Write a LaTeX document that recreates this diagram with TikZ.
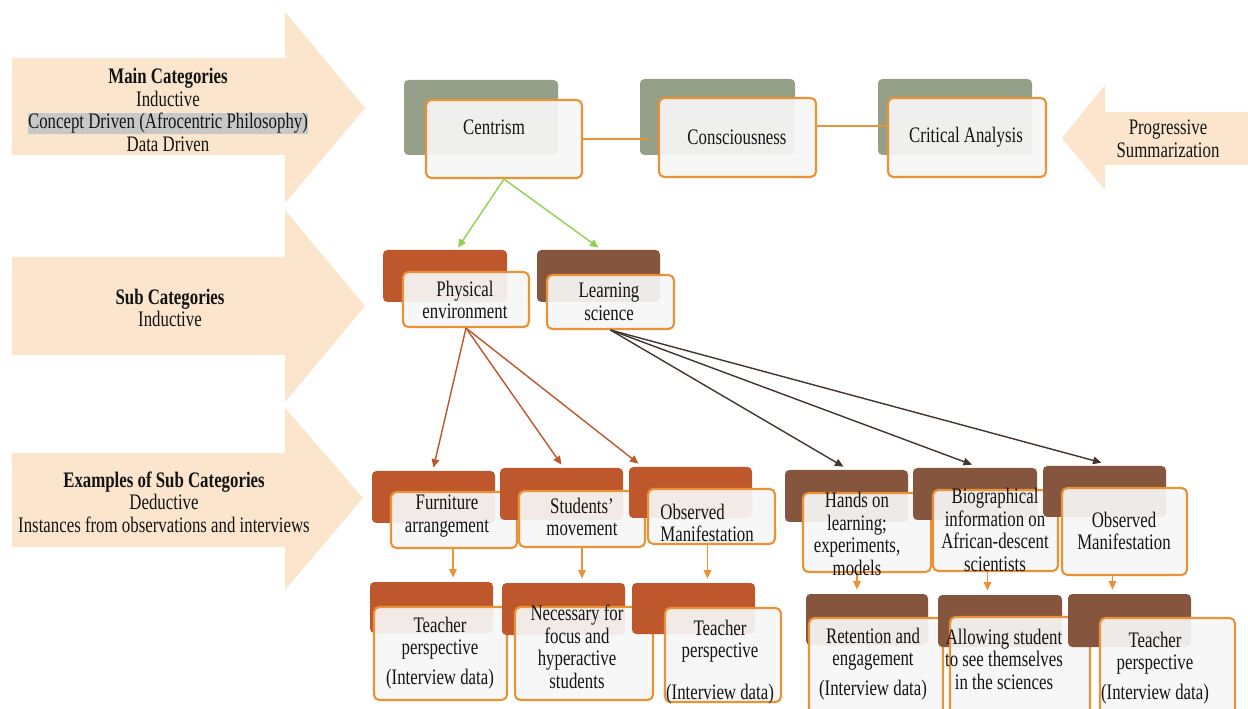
\documentclass[tikz,border=0pt]{standalone}
\usepackage{fontspec}
\setmainfont{Liberation Serif}[FakeStretch=0.76]
\usetikzlibrary{fit,calc,arrows.meta}
\definecolor{beige}{RGB}{251,229,205}
\definecolor{hlgray}{RGB}{200,200,200}
\definecolor{sage}{RGB}{148,160,136}
\definecolor{rust}{RGB}{190,87,44}
\definecolor{bark}{RGB}{133,85,61}
\definecolor{edge}{RGB}{234,146,54}
\definecolor{leaf}{RGB}{146,208,80}
\definecolor{soot}{RGB}{66,54,48}
\newcommand\lbl{\fontsize{12.6}{12.8}\selectfont}

\begin{document}
\begin{tikzpicture}[x=0.02cm,y=-0.02cm,
    back/.style={fill=#1,rounded corners=2.5pt,inner sep=0pt},
    front/.style={draw=edge,line width=1.2pt,fill=white!97!black,fill opacity=.92,rounded corners=3pt,inner sep=0pt},
    txt/.style={align=center,inner sep=0pt,text=black!92,font=\lbl},
    tip/.style={-{Triangle[length=1.7mm,width=1.5mm]},line width=.8pt},
    garr/.style={tip,draw=leaf},
    rarr/.style={tip,draw=rust},
    darr/.style={tip,draw=soot},
    oarr/.style={tip,draw=edge},
    oline/.style={draw=edge,line width=1.1pt}]
  \path[use as bounding box,fill=white] (0,0) rectangle (1248,709);
  \fill[beige] (12,58) -- (285,58) -- (285,12) -- (365,108) -- (285,203) -- (285,155) -- (12,155) -- cycle;
  \fill[beige] (12,257) -- (285,257) -- (285,210) -- (365,306) -- (285,402) -- (285,355) -- (12,355) -- cycle;
  \fill[beige] (12,453) -- (285,453) -- (285,408) -- (363,498) -- (285,590) -- (285,547) -- (12,547) -- cycle;
  \fill[beige] (1248,112) -- (1105,112) -- (1105,85) -- (1062,138) -- (1105,190) -- (1105,165) -- (1248,165) -- cycle;
  \node[txt] (mct) at (168,110) {\textbf{Main Categories}\\Inductive\\{\fboxsep0pt\colorbox{hlgray}{Concept Driven (Afrocentric Philosophy)}}\\Data Driven};
  \node[txt] (sct) at (170,308) {\textbf{Sub Categories}\\Inductive};
  \node[txt] (ext) at (164,502) {\textbf{Examples of Sub Categories}\\Deductive\\Instances from observations and interviews};
  \node[txt] (pst) at (1168,139) {Progressive\\Summarization};
  \foreach \nm/\col/\a/\b/\c/\d/\e/\f/\g/\h in {
      cen/sage/404/80/558/155/426/100/582/178, con/sage/640/79/795/155/659/98/816/177,
      cri/sage/878/79/1032/155/888/98/1046/177,
      phy/rust/383/250/507/302/403/272/529/327, lrn/bark/537/250/660/302/547/275/674/329,
      fur/rust/372/471/495/523/391/492/517/548, stm/rust/500/468/623/520/519/491/645/547,
      obl/rust/629/467/752/518/648/489/775/544,
      tpa/rust/370/582/493/633/374/607/507/700, nec/rust/502/583/625/635/515/607/653/700,
      tpb/rust/632/583/755/634/665/608/781/702,
      hnd/bark/785/470/908/522/803/493/931/572, bio/bark/913/468/1037/520/933/490/1058/571,
      obr/bark/1043/466/1166/517/1062/488/1187/575,
      ret/bark/806/594/928/645/809/618/943/714, alw/bark/938/595/1062/647/950/617/1090/714,
      tpc/bark/1068/594/1191/647/1100/618/1235/714} {
    \node[back=\col,fit={(\a,\b) (\c,\d)}] (b\nm) {};
    \node[front,fit={(\e,\f) (\g,\h)}] (\nm) {};
  }
  \draw[oline] (cen.east) -- ($(cen.east -| bcon.west)+(9,0)$);
  \draw[oline] ($(con.east)+(0,-11.5)$) -- ($(cri.west)+(0,-11.5)$);
  \draw[garr] (cen.south) -- ($(bphy.north)+(13,-2)$);
  \draw[garr] (cen.south) -- ($(blrn.north)+(0,-2)$);
  \foreach \t/\s in {bfur/0, bstm/0, bobl/-52}
    \draw[rarr] (phy.south) -- ($(\t.north)+(\s,-3)$);
  \foreach \t in {bhnd, bbio, bobr}
    \draw[darr] (lrn.south) -- ($(\t.north)+(-3,-3)$);
  \foreach \a/\b/\s in {fur/btpa/-1, stm/bnec/0, obl/btpb/-4, hnd/bret/-10, bio/balw/-8, obr/btpc/-12}
    \draw[oarr] ($(\a.south)+(\s,0)$) -- ($(\a.south |- \b.north)+(\s,-4)$);
  \foreach \nm/\x/\y/\t in {cen/494/127/Centrism, con/737/137/Consciousness, cri/966/137/Critical Analysis,
      phy/465/300/{Physical\\environment}, lrn/609/302/{Learning\\science},
      fur/447/516/{Furniture\\arrangement}, stm/582/517/{Students’\\movement},
      tpa/440/653/{Teacher\\perspective\\[4pt](Interview data)},
      nec/577/647/{Necessary for\\focus and\\hyperactive\\students},
      tpb/720/662/{Teacher\\perspective\\[11pt](Interview data)},
      hnd/857/534/{Hands on\\learning;\\experiments,\\models},
      bio/995/530/{Biographical\\information on\\African-descent\\scientists},
      obr/1124/531/{Observed\\Manifestation},
      ret/873/664/{Retention and\\engagement\\[4pt](Interview data)},
      alw/1004/659/{Allowing student\\to see themselves\\in the sciences},
      tpc/1155/668/{Teacher\\perspective\\[4pt](Interview data)}}
    \node[txt] (\nm t) at (\x,\y) {\t};
  \node[txt,align=left,anchor=west] (oblt) at (660,523) {Observed\\Manifestation};
\end{tikzpicture}
\end{document}
